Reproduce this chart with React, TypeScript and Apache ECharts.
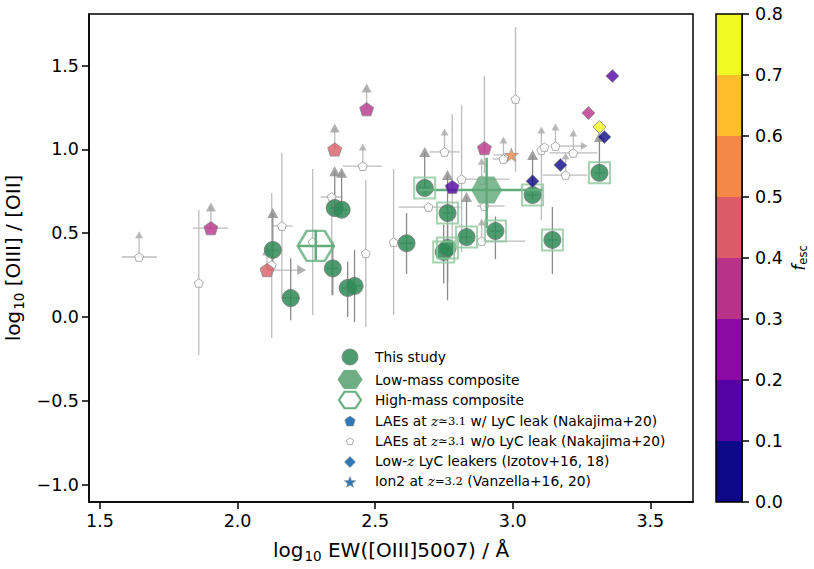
import React, { useEffect, useRef } from 'react';
import * as echarts from 'echarts';

// ---------- data ----------
const xTicks = [1.5, 2.0, 2.5, 3.0, 3.5];
const yTicks = [-1.0, -0.5, 0.0, 0.5, 1.0, 1.5];
const cbTicks = [0, 0.1, 0.2, 0.3, 0.4, 0.5, 0.6, 0.7, 0.8];
const cbColors = ['#0d0887', '#5402a3', '#8b0aa5', '#b93289', '#db5c68', '#f48849', '#febd2a', '#f0f921'];

// This study
const studyX = [2.128, 2.193, 2.353, 2.378, 2.346, 2.40, 2.425, 2.614, 2.68, 2.763, 2.832, 2.749, 2.763, 2.937, 3.072, 3.144, 3.315];
const studyY = [0.40, 0.113, 0.65, 0.64, 0.29, 0.173, 0.185, 0.44, 0.77, 0.62, 0.477, 0.388, 0.412, 0.513, 0.728, 0.46, 0.86];
const studyYLo = [0.33, -0.02, 0.60, 0.60, 0.13, 0.0, -0.03, 0.257, 0.74, 0.21, 0.44, 0.20, 0.10, 0.346, 0.70, 0.257, 0.83];
const studyYHi = [null, 0.35, null, null, 0.45, 0.33, 0.40, 0.62, null, null, null, 0.55, 0.55, 0.60, null, 0.656, null];
const studyLimY = [0.62, null, 0.87, 0.86, null, null, null, null, 0.985, 0.847, 0.716, null, null, null, 0.967, null, 1.074];
const studyXErr = [0.02, 0.033, 0.02, 0.02, 0.02, 0.02, 0.02, 0.025, 0.02, 0.02, 0.02, 0.02, 0.02, 0.02, 0.02, 0.02, 0.02];
const studyBox = [0, 0, 0, 0, 0, 0, 0, 0, 1, 1, 1, 1, 1, 1, 1, 1, 1];

// LAEs w/o LyC leak (Nakajima+20)
const laeX = [1.642, 1.859, 2.124, 2.161, 2.273, 2.342, 2.455, 2.466, 2.567, 2.694, 2.752, 2.814, 2.897, 2.887, 3.01, 2.966, 3.104, 3.115, 3.155, 3.22, 3.192, 2.887];
const laeY = [0.358, 0.203, 0.31, 0.543, 0.447, 0.716, 0.90, 0.38, 0.447, 0.656, 0.985, 0.823, 0.662, 0.453, 1.30, 0.943, 0.996, 1.014, 1.02, 0.979, 0.847, 0.817];
const laeYLo = [null, -0.227, -0.125, 0.113, 0.012, 0.13, null, -0.06, 0.012, null, null, 0.388, null, null, 0.865, null, 0.579, null, null, null, null, null];
const laeYHi = [null, 0.638, 0.74, 0.98, 0.883, null, null, 0.817, 0.883, null, null, 1.265, null, null, 1.73, null, 1.444, null, null, null, null, null];
const laeLimY = [0.49, null, null, null, null, null, 1.014, null, null, null, 1.104, null, null, 0.567, null, 1.056, 1.116, null, 1.134, 1.098, 0.96, 0.93];
const laeXLo = [1.58, null, null, 2.124, null, 2.302, 2.382, null, null, 2.585, 2.698, 2.796, 2.87, 2.887, null, 2.927, null, null, null, 3.133, 3.108, null];
const laeXHi = [1.707, null, null, 2.2, null, 2.382, 2.524, null, null, 2.81, 2.807, 2.988, 2.97, 3.046, null, 2.988, null, null, null, 3.308, 3.271, null];
const laeLimX = [null, null, null, null, null, null, null, null, null, null, null, null, null, null, null, null, null, null, 3.26, null, null, null];

// LAEs w/ LyC leak (Nakajima+20)
const lycX = [1.903, 2.107, 2.353, 2.469, 2.897, 2.78];
const lycY = [0.53, 0.28, 1.0, 1.24, 1.008, 0.776];
const lycF = [0.35, 0.45, 0.45, 0.35, 0.35, 0.15];
const lycYLo = [null, null, null, null, 0.86, 0.388];
const lycYHi = [null, null, null, null, 1.44, 1.21];
const lycLimY = [0.656, 0.394, 1.128, 1.366, null, null];
const lycXLo = [1.838, null, null, null, null, null];
const lycXHi = [1.965, null, null, null, null, null];
const lycLimX = [null, 2.233, null, null, null, null];

// Low-z LyC leakers (Izotov+16, 18)
const izoX = [3.362, 3.275, 3.315, 3.333, 3.173, 3.072];
const izoY = [1.438, 1.217, 1.134, 1.074, 0.907, 0.81];
const izoF = [0.15, 0.35, 0.75, 0.05, 0.05, 0.05];

// Ion2 (Vanzella+16, 20)
const ionX = [2.995];
const ionY = [0.967];
const ionF = [0.55];
const ionXLo = [2.93];
const ionXHi = [3.01];

// Composites
const lowMassX = [2.905];
const lowMassY = [0.758];
const lowMassXLo = [2.66];
const lowMassXHi = [3.11];
const lowMassYLo = [0.53];
const lowMassYHi = [0.95];
const highMassX = [2.284];
const highMassY = [0.424];
const highMassXLo = [2.219];
const highMassXHi = [2.353];
const highMassYLo = [0.34];
const highMassYHi = [0.52];

// ---------- helpers ----------
const N = (v: any) => (v === null || v === undefined ? NaN : v);
const fescColor = (f: number) => cbColors[Math.max(0, Math.min(7, Math.floor(f / 0.1 + 1e-9)))];
const fmt = (v: number) => (v < 0 ? '\u2212' : '') + Math.abs(v).toFixed(1);

function starPoints(n: number, ro: number, ri: number, start: number) {
  const pts: number[][] = [];
  const m = ri > 0 ? n * 2 : n;
  for (let i = 0; i < m; i++) {
    const r = ri > 0 && i % 2 === 1 ? ri : ro;
    const a = start + (i * 2 * Math.PI) / m;
    pts.push([r * Math.cos(a), r * Math.sin(a)]);
  }
  return pts;
}
const toPath = (pts: number[][]) =>
  'path://' + pts.map((p, i) => (i ? 'L' : 'M') + p[0].toFixed(4) + ',' + p[1].toFixed(4)).join(' ') + ' Z';
const PENT = toPath(starPoints(5, 1, 0, -Math.PI / 2));
const HEX = toPath(starPoints(6, 1, 0, 0));
const STAR = toPath(starPoints(5, 1, 0.4, -Math.PI / 2));

function errRender(color: string, width: number) {
  return (params: any, api: any) => {
    const x = api.value(0), y = api.value(1);
    const xlo = api.value(2), xhi = api.value(3), ylo = api.value(4), yhi = api.value(5);
    const ch: any[] = [];
    const ok = (v: any) => typeof v === 'number' && isFinite(v);
    if (ok(ylo) || ok(yhi)) {
      const a = api.coord([x, ok(ylo) ? ylo : y]);
      const b = api.coord([x, ok(yhi) ? yhi : y]);
      ch.push({ type: 'line', shape: { x1: a[0], y1: a[1], x2: b[0], y2: b[1] }, style: { stroke: color, lineWidth: width } });
    }
    if (ok(xlo) || ok(xhi)) {
      const a = api.coord([ok(xlo) ? xlo : x, y]);
      const b = api.coord([ok(xhi) ? xhi : x, y]);
      ch.push({ type: 'line', shape: { x1: a[0], y1: a[1], x2: b[0], y2: b[1] }, style: { stroke: color, lineWidth: width } });
    }
    return { type: 'group', children: ch };
  };
}

function App() {
  const ref = useRef<HTMLDivElement>(null);
  useEffect(() => {
    if (!ref.current) return;
    const chart = echarts.init(ref.current, null, { renderer: 'svg' });

    const studyErr = studyX.map((x, i) => [x, studyY[i], x - studyXErr[i], x + studyXErr[i], N(studyYLo[i]), N(studyLimY[i] ?? studyYHi[i])]);
    const laeErr = laeX.map((x, i) => [x, laeY[i], N(laeXLo[i]), N(laeLimX[i] ?? laeXHi[i]), N(laeYLo[i]), N(laeLimY[i] ?? laeYHi[i])]);
    const lycErr = lycX.map((x, i) => [x, lycY[i], N(lycXLo[i]), N(lycLimX[i] ?? lycXHi[i]), N(lycYLo[i]), N(lycLimY[i] ?? lycYHi[i])]);
    const ionErr = ionX.map((x, i) => [x, ionY[i], ionXLo[i], ionXHi[i], NaN, NaN]);
    const compErr = [
      [lowMassX[0], lowMassY[0], lowMassXLo[0], lowMassXHi[0], lowMassYLo[0], lowMassYHi[0]],
      [highMassX[0], highMassY[0], highMassXLo[0], highMassXHi[0], highMassYLo[0], highMassYHi[0]],
    ];

    const studyUp = studyX.map((x, i) => (studyLimY[i] != null ? [x, studyLimY[i]] : null)).filter(Boolean);
    const laeUp = laeX.map((x, i) => (laeLimY[i] != null ? [x, laeLimY[i]] : null)).filter(Boolean);
    const laeRight = laeX.map((x, i) => (laeLimX[i] != null ? [laeLimX[i], laeY[i]] : null)).filter(Boolean);
    const lycUp = lycX.map((x, i) => (lycLimY[i] != null ? [x, lycLimY[i]] : null)).filter(Boolean);
    const lycRight = lycX.map((x, i) => (lycLimX[i] != null ? [lycLimX[i], lycY[i]] : null)).filter(Boolean);

    const base = { xAxisIndex: 0, yAxisIndex: 0, silent: true };
    const cbSeries = cbColors.map((c) => ({
      type: 'bar', xAxisIndex: 1, yAxisIndex: 1, stack: 'cb', data: [0.1], barWidth: '100%',
      itemStyle: { color: c }, silent: true,
    }));

    const font = 'DejaVu Sans';
    const tickFs = 17.5;
    const titleFs = 20;
    const legFs = 13.8;
    const legX = 350, legTx = 375;
    const legY = [357, 379.5, 400, 420.5, 440.5, 461, 481];
    const legRich = {
      z: { fontFamily: 'DejaVu Serif', fontStyle: 'italic', fontSize: legFs, fill: '#000' },
      m: { fontFamily: 'DejaVu Serif', fontSize: 11.5, fill: '#000' },
    };
    const legTexts = [
      'This study',
      'Low-mass composite',
      'High-mass composite',
      'LAEs at {z|z}{m|\u22433.1} w/ LyC leak (Nakajima+20)',
      'LAEs at {z|z}{m|\u22433.1} w/o LyC leak (Nakajima+20)',
      'Low-{z|z} LyC leakers (Izotov+16, 18)',
      'Ion2 at {z|z}{m|=3.2} (Vanzella+16, 20)',
    ];
    const poly = (pts: number[][], cx: number, cy: number, sx: number, sy: number) =>
      pts.map((p) => [cx + p[0] * sx, cy + p[1] * sy]);
    const legBlue = '#2e78b5';
    const legendGraphics: any[] = [
      { type: 'circle', shape: { cx: legX, cy: legY[0], r: 8 }, style: { fill: '#2e8b57', opacity: 0.85, stroke: '#888', lineWidth: 1 } },
      { type: 'polygon', shape: { points: poly(starPoints(6, 1, 0, 0), legX, legY[1], 12, 10.5) }, style: { fill: '#6fae85', stroke: '#6fae85', lineWidth: 1 } },
      { type: 'polygon', shape: { points: poly(starPoints(6, 1, 0, 0), legX, legY[2], 11, 9.5) }, style: { fill: 'none', stroke: '#66b07f', lineWidth: 2.2 } },
      { type: 'polygon', shape: { points: poly(starPoints(5, 1, 0, -Math.PI / 2), legX, legY[3] + 1, 5.5, 5.5) }, style: { fill: legBlue, stroke: '#888', lineWidth: 0.6 } },
      { type: 'polygon', shape: { points: poly(starPoints(5, 1, 0, -Math.PI / 2), legX, legY[4] + 1, 3.8, 3.8) }, style: { fill: '#fff', stroke: '#999', lineWidth: 0.8 } },
      { type: 'polygon', shape: { points: poly(starPoints(4, 1, 0, -Math.PI / 2), legX, legY[5] + 1, 5.5, 5.5) }, style: { fill: legBlue, stroke: '#888', lineWidth: 0.6 } },
      { type: 'polygon', shape: { points: poly(starPoints(5, 1, 0.42, -Math.PI / 2), legX, legY[6] + 1.5, 6, 6) }, style: { fill: legBlue, stroke: '#888', lineWidth: 0.5 } },
      ...legTexts.map((t, i) => ({
        type: 'text', x: legTx, y: legY[i],
        style: { text: t, fontFamily: font, fontSize: legFs, fill: '#000', verticalAlign: 'middle', align: 'left', rich: legRich },
      })),
    ];

    const titleRich = {
      s: { fontSize: titleFs, fontFamily: font, color: '#000', lineHeight: 26, verticalAlign: 'middle' },
      b: { fontSize: 13.5, fontFamily: font, color: '#000', lineHeight: 26, verticalAlign: 'bottom', padding: [0, 0, 0, 1] },
      n: { fontSize: titleFs, fontFamily: font, color: '#000', lineHeight: 26, verticalAlign: 'middle' },
    };
    const cbRich = {
      f: { fontSize: 17, fontFamily: font, fontStyle: 'italic', color: '#000', lineHeight: 20, verticalAlign: 'middle' },
      b: { fontSize: 11.5, fontFamily: font, color: '#000', lineHeight: 20, verticalAlign: 'bottom' },
    };

    const option: any = {
      animation: false,
      backgroundColor: '#fff',
      textStyle: { fontFamily: font },
      grid: [
        { left: 89, top: 14, width: 604, height: 488, show: true, borderColor: '#000', borderWidth: 1.5, backgroundColor: 'transparent', containLabel: false, outerBoundsMode: 'none' },
        { left: 716, top: 14, width: 26, height: 488, show: false, containLabel: false, outerBoundsMode: 'none' },
      ],
      xAxis: [
        {
          type: 'value', min: 1.46, max: 3.655, gridIndex: 0,
          splitLine: { show: false },
          axisLine: { show: true, onZero: false, lineStyle: { color: '#000', width: 1.5 } },
          axisTick: { show: true, customValues: xTicks, length: 7, lineStyle: { color: '#000', width: 1.5 } },
          axisLabel: { customValues: xTicks, formatter: fmt, fontSize: tickFs, color: '#000', margin: 10, fontFamily: font },
          name: '{s|log}{b|10}{n| EW([OIII]5007) / \u00c5}',
          nameLocation: 'middle', nameGap: 35,
          nameTextStyle: { rich: titleRich },
        },
        { type: 'category', gridIndex: 1, data: ['cb'], show: false },
      ],
      yAxis: [
        {
          type: 'value', min: -1.104, max: 1.808, gridIndex: 0,
          splitLine: { show: false },
          axisLine: { show: true, onZero: false, lineStyle: { color: '#000', width: 1.5 } },
          axisTick: { show: true, customValues: yTicks, length: 7, lineStyle: { color: '#000', width: 1.5 } },
          axisLabel: { customValues: yTicks, formatter: fmt, fontSize: tickFs, color: '#000', margin: 10, fontFamily: font },
          name: '{s|log}{b|10}{n| [OIII] / [OII]}',
          nameLocation: 'middle', nameGap: 55, nameRotate: 90,
          nameTextStyle: { rich: titleRich },
        },
        {
          type: 'value', gridIndex: 1, min: 0, max: 0.8, interval: 0.1, position: 'right',
          splitLine: { show: false },
          axisLine: { show: true, onZero: false, lineStyle: { color: '#000', width: 1.5 } },
          axisTick: { show: true, length: 7, lineStyle: { color: '#000', width: 1.5 } },
          axisLabel: { formatter: (v: number) => v.toFixed(1), fontSize: tickFs, color: '#000', margin: 13, fontFamily: font },
          name: '{f|f}{b|esc}',
          nameLocation: 'middle', nameGap: 47, nameRotate: 90,
          nameTextStyle: { rich: cbRich },
        },
      ],
      graphic: [
        { type: 'rect', shape: { x: 716, y: 14, width: 26, height: 488 }, style: { fill: 'none', stroke: '#000', lineWidth: 1.5 }, z: 100 },
        ...legendGraphics,
      ],
      series: [
        ...cbSeries,
        { ...base, type: 'custom', name: 'laeErr', renderItem: errRender('#bdbdbd', 1.3), data: laeErr, encode: { x: 0, y: 1 }, z: 1 },
        { ...base, type: 'custom', name: 'lycErr', renderItem: errRender('#bdbdbd', 1.3), data: lycErr, encode: { x: 0, y: 1 }, z: 1 },
        { ...base, type: 'custom', name: 'ionErr', renderItem: errRender('#bdbdbd', 1.3), data: ionErr, encode: { x: 0, y: 1 }, z: 1 },
        { ...base, type: 'custom', name: 'studyErr', renderItem: errRender('#8a8a8a', 1.3), data: studyErr, encode: { x: 0, y: 1 }, z: 2 },
        { ...base, type: 'scatter', name: 'laeUp', data: laeUp, symbol: 'triangle', symbolSize: [8, 7], itemStyle: { color: '#aaaaaa' }, z: 2 },
        { ...base, type: 'scatter', name: 'laeRight', data: laeRight, symbol: 'triangle', symbolRotate: -90, symbolSize: [8, 7], itemStyle: { color: '#aaaaaa' }, z: 2 },
        { ...base, type: 'scatter', name: 'lycUp', data: lycUp, symbol: 'triangle', symbolSize: [10, 9], itemStyle: { color: '#a0a0a0' }, z: 2 },
        { ...base, type: 'scatter', name: 'lycRight', data: lycRight, symbol: 'triangle', symbolRotate: -90, symbolSize: [10, 9], itemStyle: { color: '#a0a0a0' }, z: 2 },
        { ...base, type: 'scatter', name: 'studyUp', data: studyUp, symbol: 'triangle', symbolSize: [11, 10], itemStyle: { color: '#8c8c8c' }, z: 2 },
        {
          ...base, type: 'scatter', name: 'LAEs w/o LyC leak', data: laeX.map((x, i) => [x, laeY[i]]),
          symbol: PENT, symbolSize: 9, symbolKeepAspect: true,
          itemStyle: { color: '#fff', borderColor: '#9a9a9a', borderWidth: 1 }, z: 3,
        },
        {
          ...base, type: 'scatter', name: 'This study', data: studyX.map((x, i) => [x, studyY[i]]),
          symbol: 'circle', symbolSize: 17,
          itemStyle: { color: '#2e8b57', opacity: 0.85, borderColor: '#777', borderWidth: 1 }, z: 4,
        },
        {
          ...base, type: 'scatter', name: 'boxes', data: studyX.map((x, i) => (studyBox[i] ? [x, studyY[i]] : null)).filter(Boolean),
          symbol: 'rect', symbolSize: 21,
          itemStyle: { color: 'rgba(0,0,0,0)', borderColor: '#8ec79c', borderWidth: 2 }, z: 5,
        },
        { ...base, type: 'custom', name: 'compErr', renderItem: errRender('#62ad7c', 2.5), data: compErr, encode: { x: 0, y: 1 }, z: 5 },
        {
          ...base, type: 'scatter', name: 'High-mass composite', data: highMassX.map((x, i) => [x, highMassY[i]]),
          symbol: HEX, symbolSize: [36, 30],
          itemStyle: { color: 'rgba(0,0,0,0)', borderColor: '#62ad7c', borderWidth: 2.5 }, z: 6,
        },
        {
          ...base, type: 'scatter', name: 'Low-mass composite', data: lowMassX.map((x, i) => [x, lowMassY[i]]),
          symbol: HEX, symbolSize: [31, 27],
          itemStyle: { color: '#5fa878', opacity: 0.8 }, z: 6,
        },
        {
          ...base, type: 'scatter', name: 'LAEs w/ LyC leak',
          data: lycX.map((x, i) => ({ value: [x, lycY[i]], itemStyle: { color: fescColor(lycF[i]) } })),
          symbol: PENT, symbolSize: 14, symbolKeepAspect: true,
          itemStyle: { borderColor: '#888', borderWidth: 1 }, z: 7,
        },
        {
          ...base, type: 'scatter', name: 'Low-z LyC leakers',
          data: izoX.map((x, i) => ({ value: [x, izoY[i]], itemStyle: { color: fescColor(izoF[i]) } })),
          symbol: 'diamond', symbolSize: 13,
          itemStyle: { borderColor: '#888', borderWidth: 1 }, z: 7,
        },
        {
          ...base, type: 'scatter', name: 'Ion2',
          data: ionX.map((x, i) => ({ value: [x, ionY[i]], itemStyle: { color: fescColor(ionF[i]) } })),
          symbol: STAR, symbolSize: 14, symbolKeepAspect: true,
          itemStyle: { borderColor: '#888', borderWidth: 0.8 }, z: 7,
        },
      ],
    };
    chart.setOption(option);
    return () => chart.dispose();
  }, []);
  return <div ref={ref} style={{ position: 'fixed', left: 0, top: 0, width: 814, height: 569 }} />;
}

export default App;
